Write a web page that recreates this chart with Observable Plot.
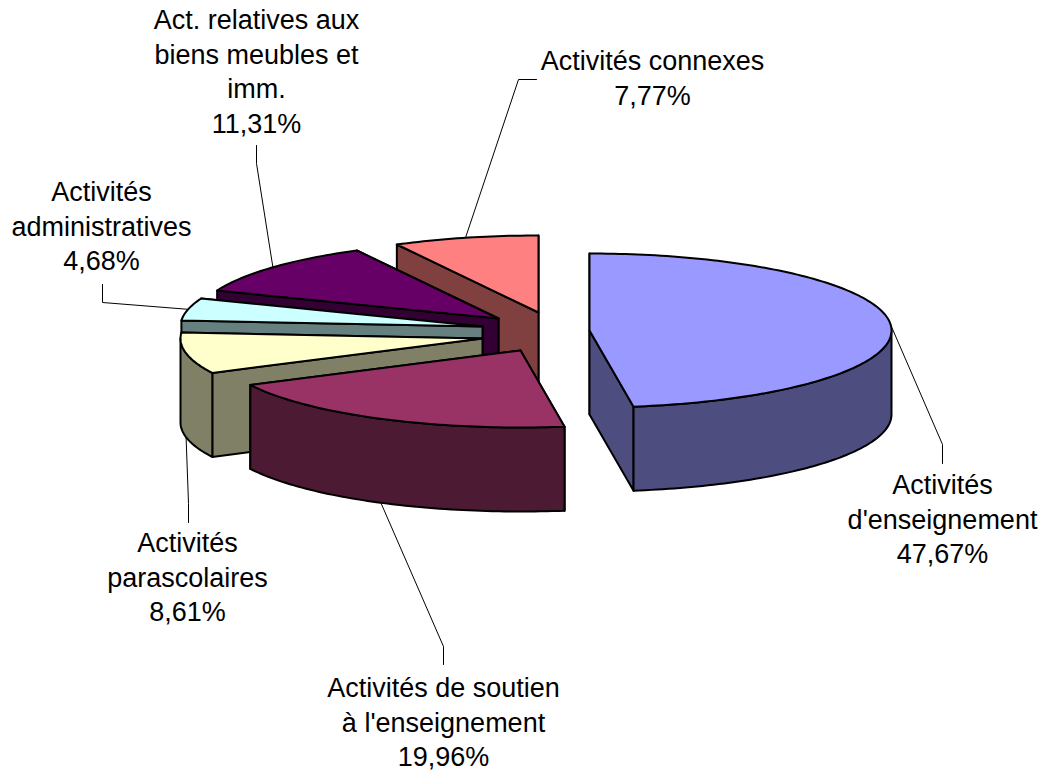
<!DOCTYPE html>
<html><head><meta charset="utf-8">
<style>html,body{margin:0;padding:0;background:#fff}svg{display:block}</style>
<script src="https://cdn.jsdelivr.net/npm/d3@7"></script>
<script src="https://cdn.jsdelivr.net/npm/@observablehq/plot@0.6"></script>
</head><body><script>
// data
const categories = ["Activités d'enseignement","Activités de soutien à l'enseignement","Activités parascolaires","Activités administratives","Act. relatives aux biens meubles et imm.","Activités connexes"];
const shares = [47.67,19.96,8.61,4.68,11.31,7.77];
const labelLines = [["Activités","d'enseignement","47,67%"],["Activités de soutien","à l'enseignement","19,96%"],["Activités","parascolaires","8,61%"],["Activités","administratives","4,68%"],["Act. relatives aux","biens meubles et","imm.","11,31%"],["Activités connexes","7,77%"]];
const topColors = ["#9999FF","#993366","#FFFFCC","#CCFFFF","#660066","#FF8080"];
const sideColors = ["#4D4D80","#4D1A33","#808066","#668080","#330033","#804040"];

// layout of the exploded 3D pie
const rx = 302, ry = 77, depth = 84;
const apexes = [[589,330],[520,350],[482,338],[482,326],[498,318],[538,312]];
const labelAnchors = [[942,485],[443,688],[187,543],[101,192],[256,20],[652,61]];
const lineStep = 34.5;
const elbows = [[[942,444],[942,463]],[[443,646],[443,664]],[[188,503],[188,522]],[[102,302],[102,284]],[[256,163],[256,145]],[[518,79],[536,79]]];

const total = d3.sum(shares);
let cum = 0;
const slices = shares.map((s,i)=>{const a0=cum/total*2*Math.PI; cum+=s; return {i,a0,a1:cum/total*2*Math.PI,apex:apexes[i]};});
const rim = (sl,a,dz=0)=>({x:sl.apex[0]+rx*Math.sin(a), y:sl.apex[1]-ry*Math.cos(a)+dz});
const arc = (sl,a0,a1,dz=0)=>{const n=Math.max(2,Math.ceil(Math.abs(a1-a0)/0.02));return d3.range(n+1).map(k=>rim(sl,a0+(a1-a0)*k/n,dz));};
const ap = (sl,dz=0)=>({x:sl.apex[0],y:sl.apex[1]+dz});
const closed = p=>[...p,p[0]];
const face = (pts,fill)=>Plot.line(closed(pts),{x:"x",y:"y",fill,stroke:"#000",strokeWidth:2,strokeLinejoin:"round",curve:"linear"});

const marks = [];
// leaders first, under the pie; slices are then painted back to front
slices.forEach(sl=>{
  const mid=(sl.a0+sl.a1)/2;
  const start=rim(sl,mid,Math.cos(mid)<0?depth:0);
  const pts=[start,...elbows[sl.i].map(([x,y])=>({x,y}))];
  marks.push(Plot.line(pts,{x:"x",y:"y",stroke:"#000",strokeWidth:1,curve:"linear"}));
});
for (const sl of [...slices].reverse()) {
  const side = sideColors[sl.i], top = topColors[sl.i];
  // the wall whose rim end lies further back is painted first
  for (const a of [sl.a0, sl.a1].sort((p,q)=>rim(sl,p).y-rim(sl,q).y)) {
    marks.push(face([ap(sl),rim(sl,a),rim(sl,a,depth),ap(sl,depth)],side));
  }
  const lo=Math.max(sl.a0,Math.PI/2), hi=Math.min(sl.a1,3*Math.PI/2);
  if (hi>lo) marks.push(face([...arc(sl,lo,hi),...arc(sl,hi,lo,depth)],side));
  marks.push(face([ap(sl),...arc(sl,sl.a0,sl.a1)],top));
}
// labels
const labelRows = labelLines.flatMap((ls,i)=>ls.map((t,k)=>({t,x:labelAnchors[i][0],y:labelAnchors[i][1]+k*lineStep})));
marks.push(Plot.text(labelRows,{x:"x",y:"y",text:"t",textAnchor:"middle",fill:"#000",fontSize:27,fontFamily:"'Liberation Sans',Arial,sans-serif"}));

document.body.append(Plot.plot({
  width:1044,height:771,margin:0,
  x:{domain:[0,1044],range:[0,1044],axis:null},
  y:{domain:[0,771],range:[0,771],axis:null},
  marks
}));
</script></body></html>
